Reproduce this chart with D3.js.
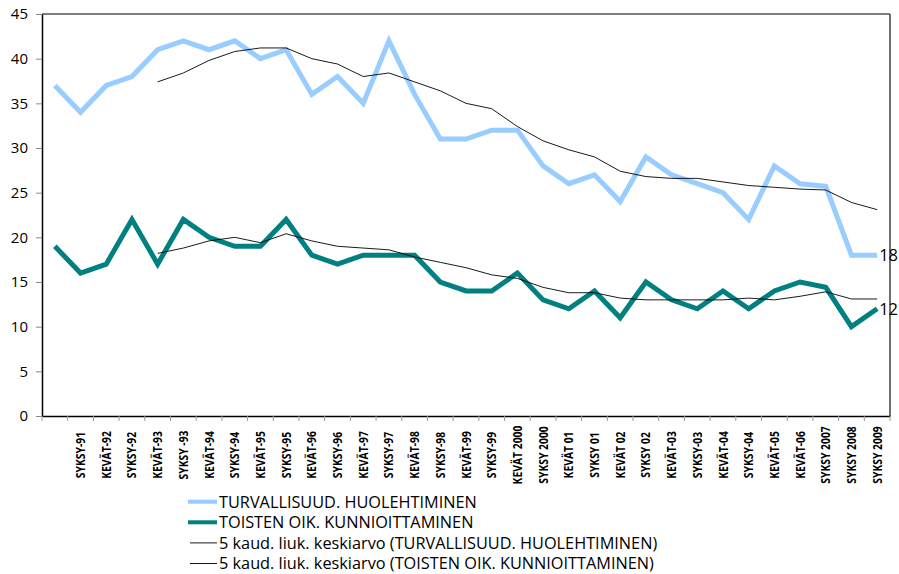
<!DOCTYPE html>
<html>
<head>
<meta charset="utf-8">
<script src="https://cdn.jsdelivr.net/npm/d3@7/dist/d3.min.js"></script>
<style>
  html, body { margin: 0; padding: 0; background: #fff; }
  svg { display: block; }
</style>
</head>
<body>
<svg id="chart" width="899" height="574"></svg>
<script>
// ---- data ----
const categories = ["", "SYKSY-91", "KEVÄT-92", "SYKSY-92", "KEVÄT-93", "SYKSY -93", "KEVÄT-94",
  "SYKSY-94", "KEVÄT-95", "SYKSY-95", "KEVÄT-96", "SYKSY-96", "KEVÄT-97", "SYKSY-97", "KEVÄT-98",
  "SYKSY-98", "KEVÄT-99", "SYKSY-99", "KEVÄT 2000", "SYKSY 2000", "KEVÄT 01", "SYKSY 01",
  "KEVÄT 02", "SYKSY 02", "KEVÄT-03", "SYKSY-03", "KEVÄT-04", "SYKSY-04", "KEVÄT-05",
  "KEVÄT-06", "SYKSY 2007", "SYKSY 2008", "SYKSY 2009"];

const turvallisuus = [37, 34, 37, 38, 41, 42, 41, 42, 40, 41, 36, 38, 35, 42, 36, 31, 31, 32, 32,
  28, 26, 27, 24, 29, 27, 26, 25, 22, 28, 26, 25.7, 18, 18];

const toisten = [19, 16, 17, 22, 17, 22, 20, 19, 19, 22, 18, 17, 18, 18, 18, 15, 14, 14, 16,
  13, 12, 14, 11, 15, 13, 12, 14, 12, 14, 15, 14.4, 10, 12];

const turvallisuusMA = [null, null, null, null, 37.4, 38.4, 39.8, 40.8, 41.2, 41.2, 40.0, 39.4,
  38.0, 38.4, 37.4, 36.4, 35.0, 34.4, 32.4, 30.8, 29.8, 29.0, 27.4, 26.8, 26.6, 26.6, 26.2,
  25.8, 25.6, 25.4, 25.3, 23.9, 23.1];

const toistenMA = [null, null, null, null, 18.2, 18.8, 19.6, 20.0, 19.4, 20.4, 19.6, 19.0,
  18.8, 18.6, 17.8, 17.2, 16.6, 15.8, 15.4, 14.4, 13.8, 13.8, 13.2, 13.0, 13.0, 13.0, 13.0,
  13.2, 13.0, 13.4, 13.9, 13.1, 13.1];

const yTicks = [0, 5, 10, 15, 20, 25, 30, 35, 40, 45];

const legendLabels = [
  "TURVALLISUUD. HUOLEHTIMINEN",
  "TOISTEN OIK. KUNNIOITTAMINEN",
  "5 kaud. liuk. keskiarvo (TURVALLISUUD. HUOLEHTIMINEN)",
  "5 kaud. liuk. keskiarvo (TOISTEN OIK. KUNNIOITTAMINEN)"
];

// ---- layout ----
const svg = d3.select("#chart");
const pLeft = 42, pRight = 890, pTop = 14, pBottom = 416;

const x = d3.scaleBand().domain(d3.range(categories.length)).range([pLeft, pRight]).padding(0);
const cx = i => x(i) + x.bandwidth() / 2;
const y = d3.scaleLinear().domain([0, 45]).range([pBottom, pTop]);

// frame (top + right)
svg.append("line").attr("x1", pLeft).attr("x2", pRight).attr("y1", pTop).attr("y2", pTop)
  .attr("stroke", "#000").attr("stroke-width", 1.2);
svg.append("line").attr("x1", pRight).attr("x2", pRight).attr("y1", pTop).attr("y2", pBottom)
  .attr("stroke", "#404040").attr("stroke-width", 1.5);

// y axis
const yAxis = svg.append("g").attr("transform", `translate(${pLeft},0)`)
  .call(d3.axisLeft(y).tickValues(yTicks).tickSize(6).tickPadding(8).tickSizeOuter(0));
yAxis.select(".domain").attr("stroke", "#000").attr("stroke-width", 1.5);
yAxis.selectAll(".tick line").attr("stroke", "#888");
yAxis.selectAll(".tick text").attr("font-family", "'Open Sans', sans-serif")
  .attr("font-size", 15).attr("fill", "#000");

// x axis
const xAxis = svg.append("g").attr("transform", `translate(0,${pBottom})`)
  .call(d3.axisBottom(x).tickSize(0).tickFormat(""));
xAxis.select(".domain").attr("stroke", "#000").attr("stroke-width", 1.5);
// ticks between categories
svg.append("g").selectAll("line")
  .data(d3.range(categories.length + 1))
  .join("line")
  .attr("x1", i => i < categories.length ? x(i) : pRight)
  .attr("x2", i => i < categories.length ? x(i) : pRight)
  .attr("y1", pBottom).attr("y2", pBottom + 5)
  .attr("stroke", "#999").attr("stroke-width", 1);

// x labels
svg.append("g").selectAll("text")
  .data(categories)
  .join("text")
  .attr("transform", (d, i) => `translate(${cx(i)},455) rotate(-90) scale(0.82,1)`)
  .attr("text-anchor", "middle")
  .attr("dy", "0.36em")
  .attr("font-family", "'Open Sans', sans-serif")
  .attr("font-weight", "bold")
  .attr("font-size", 12.6)
  .attr("fill", "#000")
  .text(d => d);

// lines
const lineGen = d3.line()
  .defined(d => d != null)
  .x((d, i) => cx(i))
  .y(d => y(d));

function drawLine(data, color, width) {
  svg.append("path")
    .datum(data)
    .attr("fill", "none")
    .attr("stroke", color)
    .attr("stroke-width", width)
    .attr("stroke-linejoin", "miter")
    .attr("stroke-miterlimit", 4)
    .attr("d", lineGen);
}

drawLine(turvallisuus, "#99CCFF", 5);
drawLine(toisten, "#008080", 5);
drawLine(turvallisuusMA, "#000", 0.9);
drawLine(toistenMA, "#000", 0.9);

// end labels
const last = categories.length - 1;
[[turvallisuus, "18"], [toisten, "12"]].forEach(([arr, lbl]) => {
  svg.append("text")
    .attr("x", cx(last) + 2)
    .attr("y", y(arr[last]))
    .attr("dy", "0.36em")
    .attr("font-family", "'Open Sans', sans-serif")
    .attr("font-size", 16.5)
    .attr("fill", "#000")
    .text(lbl);
});

// legend
const legendStyles = [
  { color: "#99CCFF", width: 4, x1: 188 },
  { color: "#008080", width: 4, x1: 188 },
  { color: "#000", width: 0.9, x1: 190 },
  { color: "#000", width: 0.9, x1: 190 }
];
const legendY = [501.7, 522.3, 542.9, 563.5];
const lg = svg.append("g");
legendLabels.forEach((lbl, i) => {
  lg.append("line")
    .attr("x1", legendStyles[i].x1).attr("x2", 217)
    .attr("y1", legendY[i]).attr("y2", legendY[i])
    .attr("stroke", legendStyles[i].color)
    .attr("stroke-width", legendStyles[i].width);
  lg.append("text")
    .attr("x", 219).attr("y", legendY[i])
    .attr("dy", "0.36em")
    .attr("font-family", "'Open Sans', sans-serif")
    .attr("font-size", 16.3)
    .attr("fill", "#000")
    .text(lbl);
});
</script>
</body>
</html>
